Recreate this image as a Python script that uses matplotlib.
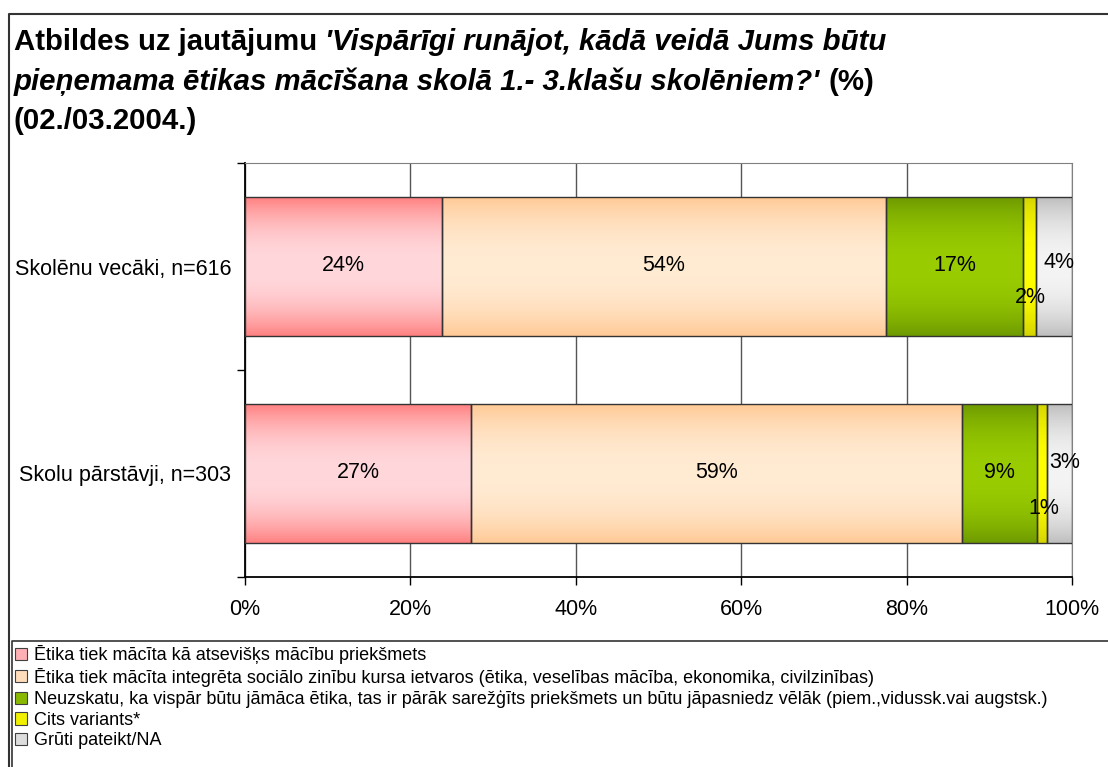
import numpy as np
import matplotlib
matplotlib.use('Agg')
import matplotlib.pyplot as plt
import matplotlib.colors as mcolors
from matplotlib.patches import Patch
from matplotlib.lines import Line2D

plt.rcParams['font.family'] = ['Liberation Sans', 'DejaVu Sans']

# grupas (no apakšas uz augšu)
grupas = ['Skolu pārstāvji, n=303', 'Skolēnu vecāki, n=616']
# atbilžu varianti
atbildes = ['Ētika tiek mācīta kā atsevišķs mācību priekšmets',
            'Ētika tiek mācīta integrēta sociālo zinību kursa ietvaros (ētika, veselības mācība, ekonomika, civilzinības)',
            'Neuzskatu, ka vispār būtu jāmāca ētika, tas ir pārāk sarežģīts priekšmets un būtu jāpasniedz vēlāk (piem.,vidussk.vai augstsk.)',
            'Cits variants*',
            'Grūti pateikt/NA']
# procenti
skolas = [27.3, 59.4, 9.1, 1.2, 3.0]
vecaki = [23.8, 53.7, 16.6, 1.5, 4.4]
x_ticks = [0, 20, 40, 60, 80, 100]

# krāsas: mala, vidus, leģenda
malas = ['#FF8080', '#FFC995', '#6E9A00', '#D4D400', '#BEBEBE']
vidus = ['#FFD8DC', '#FFEBD3', '#99CC00', '#FFFF00', '#F4F4F4']
leg_kr = ['#FFB0B4', '#FFDDBB', '#88B800', '#F0F000', '#DDDDDD']
# etiķešu nobīdes punktos (dx, dy) katrai grupai
nobides = [[(0, 1), (0, 1), (0, 1), (1, -25), (4, 8)],
           [(0, 1), (0, 1), (0, 1), (1, -22), (4, 3)]]

fig = plt.figure(figsize=(11.08, 7.67), dpi=100)
W, H = 1108, 767
ax = fig.add_axes([245/W, 1-577/H, (1072-245)/W, (577-163)/H])

vertibas = np.array([skolas, vecaki])
y = np.arange(len(grupas))
u = np.linspace(0, 1, 256)
f = np.abs(2*u - 1) ** 2.2

kreisie = np.zeros(len(grupas))
for i in range(len(atbildes)):
    bars = ax.barh(y, vertibas[:, i], left=kreisie, height=0.667,
                   facecolor='none', edgecolor='#333333', linewidth=1, zorder=3)
    e = np.array(mcolors.to_rgb(malas[i]))
    c = np.array(mcolors.to_rgb(vidus[i]))
    img = (c[None, :]*(1-f[:, None]) + e[None, :]*f[:, None])[:, None, :]
    for j, b in enumerate(bars):
        im = ax.imshow(img, extent=(b.get_x(), b.get_x()+b.get_width(),
                                    b.get_y(), b.get_y()+b.get_height()),
                       origin='lower', aspect='auto', interpolation='bilinear', zorder=2)
        im.set_clip_path(b)
        dx, dy = nobides[j][i]
        ax.annotate(f'{vertibas[j, i]:.0f}%',
                    xy=(b.get_x()+b.get_width()/2, b.get_y()+b.get_height()/2),
                    xytext=(dx, dy), textcoords='offset points',
                    ha='center', va='center', fontsize=15.5, zorder=4)
    kreisie += vertibas[:, i]

ax.set_xlim(0, 100)
ax.set_ylim(-0.5, len(grupas)-0.5)
ax.set_xticks(x_ticks, [f'{v}%' for v in x_ticks], fontsize=15.5)
ax.tick_params(axis='x', direction='out', length=6, width=1, pad=10)
ax.set_yticks([-0.5, 0.5, 1.5], ['', '', ''])
ax.set_yticks(y, grupas, minor=True, fontsize=15.5)
ax.tick_params(axis='y', which='major', direction='out', length=6, width=1)
ax.tick_params(axis='y', which='minor', length=0, pad=10)
ax.grid(axis='x', color='#555555', linewidth=1)
ax.set_axisbelow(True)
for s in ['top', 'right']:
    ax.spines[s].set_color('#808080')
ax.spines['left'].set_linewidth(1.3)
ax.spines['bottom'].set_linewidth(1.3)

# virsraksts
fs = 21.2
t1 = fig.text(14/W, 1-50/H, 'Atbildes uz jautājumu', fontsize=fs, weight='bold', va='baseline')
ax.annotate("'Vispārīgi runājot, kādā veidā Jums būtu", xy=(1, 0), xycoords=t1,
            xytext=(6, 0), textcoords='offset points', fontsize=fs, weight='bold',
            style='italic', va='bottom', ha='left', annotation_clip=False)
t2 = fig.text(14/W, 1-90/H, "pieņemama ētikas mācīšana skolā 1.- 3.klašu skolēniem?'",
              fontsize=fs, weight='bold', style='italic', va='baseline')
ax.annotate('(%)', xy=(1, 0), xycoords=t2, xytext=(6, 0), textcoords='offset points',
            fontsize=fs, weight='bold', va='bottom', ha='left', annotation_clip=False)
fig.text(14/W, 1-129/H, '(02./03.2004.)', fontsize=fs, weight='bold', va='baseline')

# rāmji
fig.add_artist(Line2D([9/W, 9/W, 1.0], [0, 1-14/H, 1-14/H], color='#333333', lw=1.5))
fig.add_artist(Line2D([12/W, 12/W, 1.0], [0, 1-641/H, 1-641/H], color='#333333', lw=1.2))

handles = [Patch(facecolor=k, edgecolor='#404040', linewidth=0.8) for k in leg_kr]
fig.legend(handles, atbildes, loc='upper left', bbox_to_anchor=(15/W, 1-645/H),
           frameon=False, fontsize=13, handlelength=0.66, handleheight=0.66,
           handletextpad=0.42, labelspacing=0.2, borderpad=0, borderaxespad=0)

fig.savefig('out.png', dpi=100)
